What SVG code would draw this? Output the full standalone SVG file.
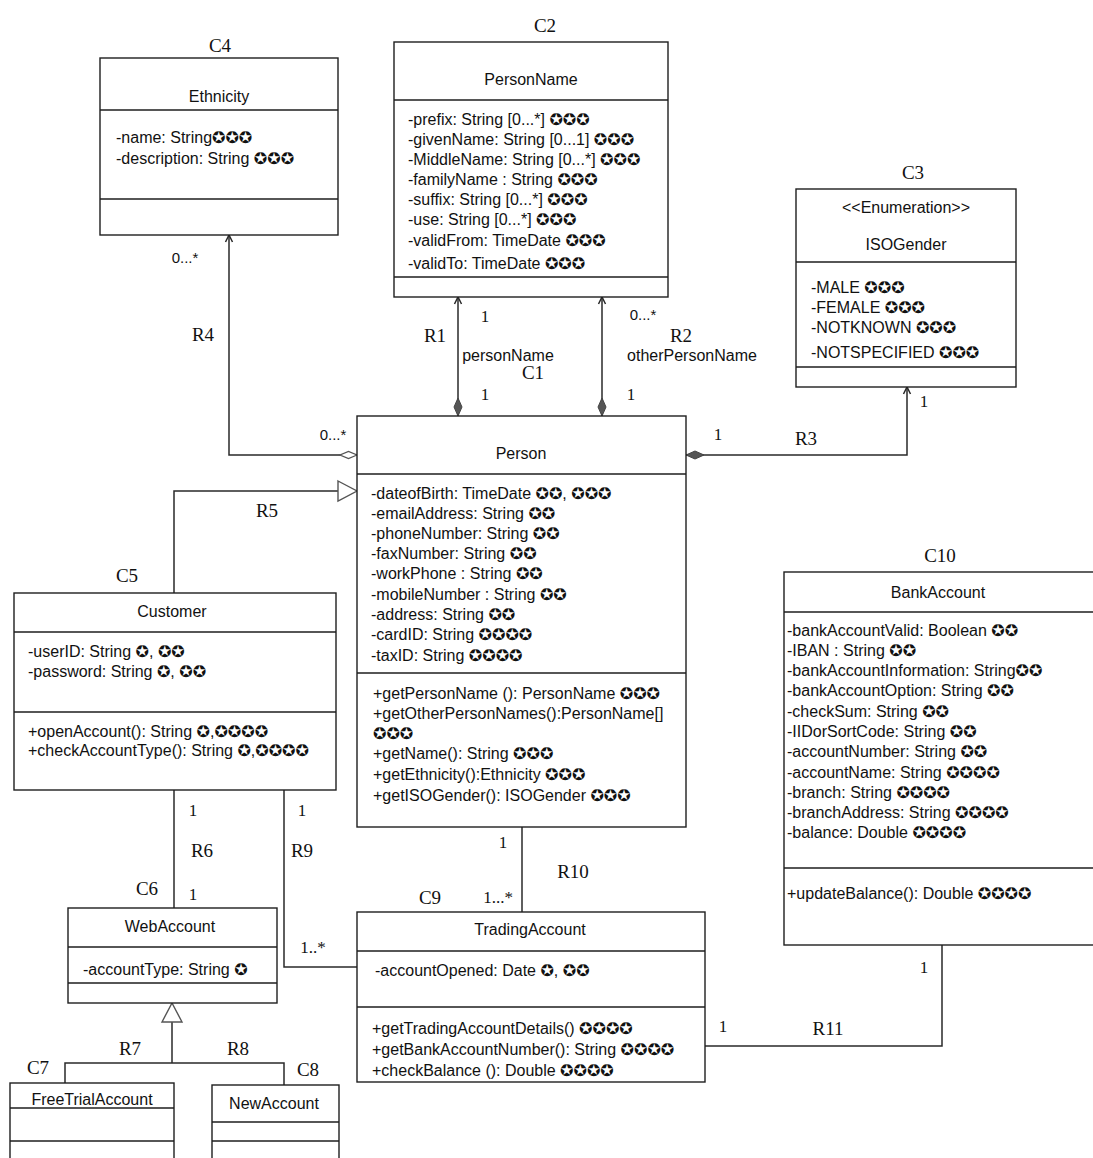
<svg xmlns="http://www.w3.org/2000/svg" width="1093" height="1158" viewBox="0 0 1093 1158">
  <style>
    .box { fill: #ffffff; stroke: #1e1e1e; stroke-width: 1.4; }
    .div { stroke: #1e1e1e; stroke-width: 1.4; }
    .t { font-family: "Liberation Sans", Arial, sans-serif; font-size: 16px; fill: #111; }
    .c { text-anchor: middle; }
    .s { font-family: "DejaVu Sans", sans-serif; font-size: 16px; }
    .lbl { font-family: "Liberation Serif", "Times New Roman", serif; font-size: 19px; fill: #111; text-anchor: middle; }
    .mul { font-family: "Liberation Serif", "Times New Roman", serif; font-size: 17px; fill: #111; text-anchor: middle; }
    .mus { font-family: "Liberation Sans", Arial, sans-serif; font-size: 15px; fill: #111; text-anchor: middle; }
    .ln { fill: none; stroke: #2a2a2a; stroke-width: 1.5; }
  </style>
  <defs>
    <marker id="arrowOpen" markerUnits="userSpaceOnUse" markerWidth="12" markerHeight="12" refX="0" refY="0" orient="auto" overflow="visible">
      <path d="M-7,-3.5 L0,0 L-7,3.5" fill="none" stroke="#2a2a2a" stroke-width="1.5"/>
    </marker>
    <marker id="diamondFilled" markerUnits="userSpaceOnUse" markerWidth="20" markerHeight="10" refX="0" refY="0" orient="auto" overflow="visible">
      <path d="M0,0 L9,-4 L18,0 L9,4 Z" fill="#555" stroke="#444" stroke-width="1"/>
    </marker>
    <marker id="diamondHollow" markerUnits="userSpaceOnUse" markerWidth="20" markerHeight="10" refX="0" refY="0" orient="auto" overflow="visible">
      <path d="M0,0 L8.5,-3.5 L17,0 L8.5,3.5 Z" fill="#fff" stroke="#555" stroke-width="1.3"/>
    </marker>
    <marker id="triHollow" markerUnits="userSpaceOnUse" markerWidth="24" markerHeight="24" refX="0" refY="0" orient="auto" overflow="visible">
      <path d="M-19,-10 L0,0 L-19,10 Z" fill="#fff" stroke="#555" stroke-width="1.4"/>
    </marker>
  </defs>

  <rect width="1093" height="1158" fill="#ffffff"/>

  <!-- connectors -->
  <g id="connectors">
    <path id="R1" class="ln" d="M458,416 V297" marker-start="url(#diamondFilled)" marker-end="url(#arrowOpen)"/>
    <path id="R2" class="ln" d="M602,416 V297" marker-start="url(#diamondFilled)" marker-end="url(#arrowOpen)"/>
    <path id="R3" class="ln" d="M686,455 H907 V387" marker-start="url(#diamondFilled)" marker-end="url(#arrowOpen)"/>
    <path id="R4" class="ln" d="M357,455 H229 V235" marker-start="url(#diamondHollow)" marker-end="url(#arrowOpen)"/>
    <path id="R5" class="ln" d="M174,593 V491 H357" marker-end="url(#triHollow)"/>
    <path id="R6" class="ln" d="M174,790 V908"/>
    <path id="R9" class="ln" d="M284,790 V967 H357"/>
    <path id="R10" class="ln" d="M522,827 V912"/>
    <path id="R11" class="ln" d="M705,1046 H942 V945"/>
    <path id="R7R8" class="ln" d="M172,1063 V1003" marker-end="url(#triHollow)"/>
    <path class="ln" d="M65,1083 V1063 H284 V1085"/>

    <!-- relation names -->
    <text class="lbl" x="435" y="342">R1</text>
    <text class="lbl" x="681" y="342">R2</text>
    <text class="lbl" x="806" y="445">R3</text>
    <text class="lbl" x="203" y="341">R4</text>
    <text class="lbl" x="267" y="517">R5</text>
    <text class="lbl" x="202" y="857">R6</text>
    <text class="lbl" x="130" y="1055">R7</text>
    <text class="lbl" x="238" y="1055">R8</text>
    <text class="lbl" x="302" y="857">R9</text>
    <text class="lbl" x="573" y="878">R10</text>
    <text class="lbl" x="828" y="1035">R11</text>

    <!-- role names -->
    <text class="t c" x="508" y="361">personName</text>
    <text class="t c" x="692" y="361">otherPersonName</text>

    <!-- multiplicities -->
    <text class="mul" x="485" y="322">1</text>
    <text class="mul" x="485" y="400">1</text>
    <text class="mus" x="643" y="320">0...*</text>
    <text class="mul" x="631" y="400">1</text>
    <text class="mul" x="718" y="440">1</text>
    <text class="mul" x="924" y="407">1</text>
    <text class="mus" x="185" y="263">0...*</text>
    <text class="mus" x="333" y="440">0...*</text>
    <text class="mul" x="193" y="816">1</text>
    <text class="mul" x="193" y="900">1</text>
    <text class="mul" x="302" y="816">1</text>
    <text class="mul" x="313" y="953">1..*</text>
    <text class="mul" x="503" y="848">1</text>
    <text class="mul" x="498" y="903">1...*</text>
    <text class="mul" x="723" y="1032">1</text>
    <text class="mul" x="924" y="973">1</text>
  </g>

  <!-- C4 Ethnicity -->
  <g id="C4">
    <text class="lbl" x="220" y="52">C4</text>
    <rect class="box" x="100" y="58" width="238" height="177"/>
    <line class="div" x1="100" y1="110" x2="338" y2="110"/>
    <line class="div" x1="100" y1="199" x2="338" y2="199"/>
    <text class="t c" x="219" y="102">Ethnicity</text>
    <text class="t" x="116" y="143">-name: String<tspan class="s">✪✪✪</tspan></text>
    <text class="t" x="116" y="164">-description: String <tspan class="s">✪✪✪</tspan></text>
  </g>

  <!-- C2 PersonName -->
  <g id="C2">
    <text class="lbl" x="545" y="32">C2</text>
    <rect class="box" x="394" y="42" width="274" height="255"/>
    <line class="div" x1="394" y1="100" x2="668" y2="100"/>
    <line class="div" x1="394" y1="277" x2="668" y2="277"/>
    <text class="t c" x="531" y="85">PersonName</text>
    <text class="t" x="408" y="125">-prefix: String [0...*] <tspan class="s">✪✪✪</tspan></text>
    <text class="t" x="408" y="145">-givenName: String [0...1] <tspan class="s">✪✪✪</tspan></text>
    <text class="t" x="408" y="165">-MiddleName: String [0...*] <tspan class="s">✪✪✪</tspan></text>
    <text class="t" x="408" y="185">-familyName : String <tspan class="s">✪✪✪</tspan></text>
    <text class="t" x="408" y="205">-suffix: String [0...*] <tspan class="s">✪✪✪</tspan></text>
    <text class="t" x="408" y="225">-use: String [0...*] <tspan class="s">✪✪✪</tspan></text>
    <text class="t" x="408" y="246">-validFrom: TimeDate <tspan class="s">✪✪✪</tspan></text>
    <text class="t" x="408" y="269">-validTo: TimeDate <tspan class="s">✪✪✪</tspan></text>
  </g>

  <!-- C3 ISOGender -->
  <g id="C3">
    <text class="lbl" x="913" y="179">C3</text>
    <rect class="box" x="796" y="189" width="220" height="198"/>
    <line class="div" x1="796" y1="262" x2="1016" y2="262"/>
    <line class="div" x1="796" y1="367" x2="1016" y2="367"/>
    <text class="t c" x="906" y="213">&lt;&lt;Enumeration&gt;&gt;</text>
    <text class="t c" x="906" y="250">ISOGender</text>
    <text class="t" x="811" y="293">-MALE <tspan class="s">✪✪✪</tspan></text>
    <text class="t" x="811" y="313">-FEMALE <tspan class="s">✪✪✪</tspan></text>
    <text class="t" x="811" y="333">-NOTKNOWN <tspan class="s">✪✪✪</tspan></text>
    <text class="t" x="811" y="358">-NOTSPECIFIED <tspan class="s">✪✪✪</tspan></text>
  </g>

  <!-- C1 Person -->
  <g id="C1">
    <text class="lbl" x="533" y="379">C1</text>
    <rect class="box" x="357" y="416" width="329" height="411"/>
    <line class="div" x1="357" y1="474" x2="686" y2="474"/>
    <line class="div" x1="357" y1="673" x2="686" y2="673"/>
    <text class="t c" x="521" y="459">Person</text>
    <text class="t" x="371" y="499">-dateofBirth: TimeDate <tspan class="s">✪✪</tspan>, <tspan class="s">✪✪✪</tspan></text>
    <text class="t" x="371" y="519">-emailAddress: String <tspan class="s">✪✪</tspan></text>
    <text class="t" x="371" y="539">-phoneNumber: String <tspan class="s">✪✪</tspan></text>
    <text class="t" x="371" y="559">-faxNumber: String <tspan class="s">✪✪</tspan></text>
    <text class="t" x="371" y="579">-workPhone : String <tspan class="s">✪✪</tspan></text>
    <text class="t" x="371" y="600">-mobileNumber : String <tspan class="s">✪✪</tspan></text>
    <text class="t" x="371" y="620">-address: String <tspan class="s">✪✪</tspan></text>
    <text class="t" x="371" y="640">-cardID: String <tspan class="s">✪✪✪✪</tspan></text>
    <text class="t" x="371" y="661">-taxID: String <tspan class="s">✪✪✪✪</tspan></text>
    <text class="t" x="373" y="699">+getPersonName (): PersonName <tspan class="s">✪✪✪</tspan></text>
    <text class="t" x="373" y="719">+getOtherPersonNames():PersonName[]</text>
    <text class="t" x="373" y="739"><tspan class="s">✪✪✪</tspan></text>
    <text class="t" x="373" y="759">+getName(): String <tspan class="s">✪✪✪</tspan></text>
    <text class="t" x="373" y="780">+getEthnicity():Ethnicity <tspan class="s">✪✪✪</tspan></text>
    <text class="t" x="373" y="801">+getISOGender(): ISOGender <tspan class="s">✪✪✪</tspan></text>
  </g>

  <!-- C5 Customer -->
  <g id="C5">
    <text class="lbl" x="127" y="582">C5</text>
    <rect class="box" x="14" y="593" width="322" height="197"/>
    <line class="div" x1="14" y1="632" x2="336" y2="632"/>
    <line class="div" x1="14" y1="712" x2="336" y2="712"/>
    <text class="t c" x="172" y="617">Customer</text>
    <text class="t" x="28" y="657">-userID: String <tspan class="s">✪</tspan>, <tspan class="s">✪✪</tspan></text>
    <text class="t" x="28" y="677">-password: String <tspan class="s">✪</tspan>, <tspan class="s">✪✪</tspan></text>
    <text class="t" x="28" y="737">+openAccount(): String <tspan class="s">✪</tspan>,<tspan class="s">✪✪✪✪</tspan></text>
    <text class="t" x="28" y="756">+checkAccountType(): String <tspan class="s">✪</tspan>,<tspan class="s">✪✪✪✪</tspan></text>
  </g>

  <!-- C10 BankAccount -->
  <g id="C10">
    <text class="lbl" x="940" y="562">C10</text>
    <rect class="box" x="784" y="572" width="320" height="373"/>
    <line class="div" x1="784" y1="612" x2="1093" y2="612"/>
    <line class="div" x1="784" y1="868" x2="1093" y2="868"/>
    <text class="t c" x="938" y="598">BankAccount</text>
    <text class="t" x="787" y="636">-bankAccountValid: Boolean <tspan class="s">✪✪</tspan></text>
    <text class="t" x="787" y="656">-IBAN : String <tspan class="s">✪✪</tspan></text>
    <text class="t" x="787" y="676">-bankAccountInformation: String<tspan class="s">✪✪</tspan></text>
    <text class="t" x="787" y="696">-bankAccountOption: String <tspan class="s">✪✪</tspan></text>
    <text class="t" x="787" y="717">-checkSum: String <tspan class="s">✪✪</tspan></text>
    <text class="t" x="787" y="737">-IIDorSortCode: String <tspan class="s">✪✪</tspan></text>
    <text class="t" x="787" y="757">-accountNumber: String <tspan class="s">✪✪</tspan></text>
    <text class="t" x="787" y="778">-accountName: String <tspan class="s">✪✪✪✪</tspan></text>
    <text class="t" x="787" y="798">-branch: String <tspan class="s">✪✪✪✪</tspan></text>
    <text class="t" x="787" y="818">-branchAddress: String <tspan class="s">✪✪✪✪</tspan></text>
    <text class="t" x="787" y="838">-balance: Double <tspan class="s">✪✪✪✪</tspan></text>
    <text class="t" x="787" y="899">+updateBalance(): Double <tspan class="s">✪✪✪✪</tspan></text>
  </g>

  <!-- C6 WebAccount -->
  <g id="C6">
    <text class="lbl" x="147" y="895">C6</text>
    <rect class="box" x="68" y="908" width="209" height="95"/>
    <line class="div" x1="68" y1="947" x2="277" y2="947"/>
    <line class="div" x1="68" y1="983" x2="277" y2="983"/>
    <text class="t c" x="170" y="932">WebAccount</text>
    <text class="t" x="83" y="975">-accountType: String <tspan class="s">✪</tspan></text>
  </g>

  <!-- C9 TradingAccount -->
  <g id="C9">
    <text class="lbl" x="430" y="904">C9</text>
    <rect class="box" x="357" y="912" width="348" height="170"/>
    <line class="div" x1="357" y1="951" x2="705" y2="951"/>
    <line class="div" x1="357" y1="1007" x2="705" y2="1007"/>
    <text class="t c" x="530" y="935">TradingAccount</text>
    <text class="t" x="375" y="976">-accountOpened: Date <tspan class="s">✪</tspan>, <tspan class="s">✪✪</tspan></text>
    <text class="t" x="372" y="1034">+getTradingAccountDetails() <tspan class="s">✪✪✪✪</tspan></text>
    <text class="t" x="372" y="1055">+getBankAccountNumber(): String <tspan class="s">✪✪✪✪</tspan></text>
    <text class="t" x="372" y="1076">+checkBalance (): Double <tspan class="s">✪✪✪✪</tspan></text>
  </g>

  <!-- C7 FreeTrialAccount -->
  <g id="C7">
    <text class="lbl" x="38" y="1074">C7</text>
    <rect class="box" x="10" y="1083" width="164" height="90"/>
    <line class="div" x1="10" y1="1108" x2="174" y2="1108"/>
    <line class="div" x1="10" y1="1141" x2="174" y2="1141"/>
    <text class="t c" x="92" y="1105">FreeTrialAccount</text>
  </g>

  <!-- C8 NewAccount -->
  <g id="C8">
    <text class="lbl" x="308" y="1076">C8</text>
    <rect class="box" x="212" y="1085" width="127" height="90"/>
    <line class="div" x1="212" y1="1122" x2="339" y2="1122"/>
    <line class="div" x1="212" y1="1141" x2="339" y2="1141"/>
    <text class="t c" x="274" y="1109">NewAccount</text>
  </g>
</svg>
